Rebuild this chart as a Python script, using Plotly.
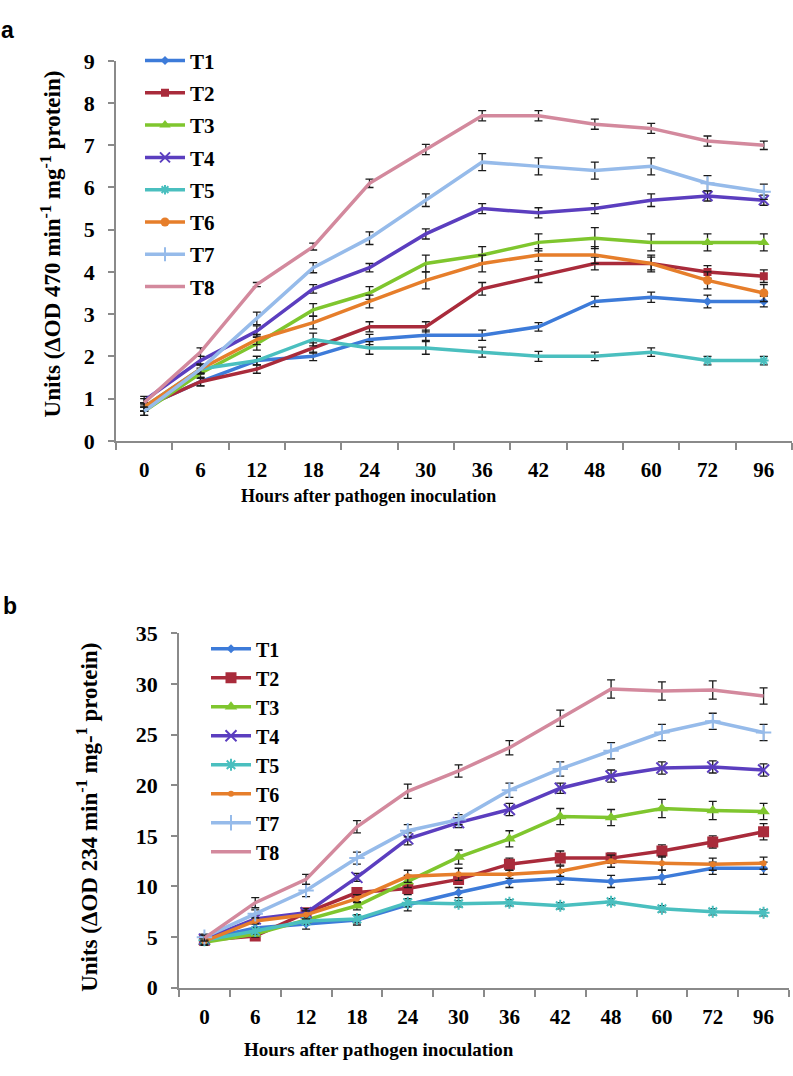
import plotly.graph_objects as go

hours = ["0", "6", "12", "18", "24", "30", "36", "42", "48", "60", "72", "96"]
names = ["T1", "T2", "T3", "T4", "T5", "T6", "T7", "T8"]

# Panel a: (ΔOD 470)
a_T1 = [0.8, 1.4, 1.9, 2.0, 2.4, 2.5, 2.5, 2.7, 3.3, 3.4, 3.3, 3.3]
a_T2 = [0.8, 1.4, 1.7, 2.2, 2.7, 2.7, 3.6, 3.9, 4.2, 4.2, 4.0, 3.9]
a_T3 = [0.7, 1.6, 2.3, 3.1, 3.5, 4.2, 4.4, 4.7, 4.8, 4.7, 4.7, 4.7]
a_T4 = [0.95, 1.9, 2.6, 3.6, 4.1, 4.9, 5.5, 5.4, 5.5, 5.7, 5.8, 5.7]
a_T5 = [0.8, 1.7, 1.9, 2.4, 2.2, 2.2, 2.1, 2.0, 2.0, 2.1, 1.9, 1.9]
a_T6 = [0.8, 1.7, 2.4, 2.8, 3.3, 3.8, 4.2, 4.4, 4.4, 4.2, 3.8, 3.5]
a_T7 = [0.7, 1.7, 2.9, 4.1, 4.8, 5.7, 6.6, 6.5, 6.4, 6.5, 6.1, 5.9]
a_T8 = [0.9, 2.1, 3.7, 4.6, 6.1, 6.9, 7.7, 7.7, 7.5, 7.4, 7.1, 7.0]

a_err_T1 = [0.10, 0.10, 0.10, 0.10, 0.12, 0.12, 0.12, 0.10, 0.12, 0.12, 0.15, 0.13]
a_err_T2 = [0.10, 0.10, 0.10, 0.12, 0.12, 0.12, 0.15, 0.15, 0.15, 0.15, 0.15, 0.15]
a_err_T3 = [0.10, 0.12, 0.15, 0.15, 0.15, 0.20, 0.20, 0.20, 0.25, 0.20, 0.20, 0.20]
a_err_T4 = [0.10, 0.10, 0.12, 0.10, 0.10, 0.12, 0.12, 0.12, 0.12, 0.15, 0.12, 0.12]
a_err_T5 = [0.10, 0.10, 0.10, 0.15, 0.15, 0.15, 0.12, 0.12, 0.10, 0.10, 0.10, 0.10]
a_err_T6 = [0.10, 0.10, 0.12, 0.15, 0.15, 0.20, 0.20, 0.15, 0.20, 0.20, 0.20, 0.20]
a_err_T7 = [0.10, 0.12, 0.15, 0.12, 0.15, 0.15, 0.20, 0.20, 0.20, 0.20, 0.18, 0.18]
a_err_T8 = [0.10, 0.10, 0.05, 0.08, 0.10, 0.12, 0.12, 0.12, 0.12, 0.12, 0.12, 0.10]

# Panel b: (ΔOD 234)
b_T1 = [4.8, 5.9, 6.3, 6.7, 8.2, 9.4, 10.5, 10.8, 10.5, 10.9, 11.8, 11.8]
b_T2 = [4.7, 5.1, 7.4, 9.4, 9.8, 10.7, 12.2, 12.8, 12.8, 13.5, 14.4, 15.4]
b_T3 = [4.5, 5.3, 6.7, 8.1, 10.5, 12.9, 14.7, 16.9, 16.8, 17.7, 17.5, 17.4]
b_T4 = [4.8, 6.8, 7.4, 10.9, 14.7, 16.3, 17.6, 19.7, 20.9, 21.7, 21.8, 21.5]
b_T5 = [4.7, 5.6, 6.6, 6.8, 8.4, 8.3, 8.4, 8.1, 8.5, 7.8, 7.5, 7.4]
b_T6 = [4.6, 6.6, 7.2, 8.8, 11.0, 11.2, 11.2, 11.5, 12.5, 12.3, 12.2, 12.3]
b_T7 = [5.0, 7.3, 9.6, 12.8, 15.5, 16.6, 19.5, 21.6, 23.4, 25.2, 26.3, 25.2]
b_T8 = [4.9, 8.4, 10.7, 15.9, 19.4, 21.4, 23.7, 26.6, 29.5, 29.3, 29.4, 28.8]

b_err_T1 = [0.3, 0.4, 0.5, 0.5, 0.6, 0.5, 0.6, 0.6, 0.6, 0.7, 0.6, 0.6]
b_err_T2 = [0.3, 0.3, 0.4, 0.4, 0.6, 0.5, 0.6, 0.7, 0.5, 0.6, 0.6, 0.8]
b_err_T3 = [0.3, 0.3, 0.4, 0.4, 0.6, 0.7, 0.8, 0.8, 0.8, 0.9, 0.9, 0.8]
b_err_T4 = [0.3, 0.4, 0.4, 0.4, 0.6, 0.5, 0.6, 0.5, 0.6, 0.6, 0.6, 0.6]
b_err_T5 = [0.3, 0.3, 0.3, 0.4, 0.4, 0.3, 0.3, 0.3, 0.3, 0.3, 0.3, 0.3]
b_err_T6 = [0.3, 0.3, 0.4, 0.4, 0.6, 0.6, 0.4, 0.5, 0.6, 0.7, 0.6, 0.6]
b_err_T7 = [0.3, 0.4, 0.6, 0.6, 0.6, 0.5, 0.7, 0.7, 0.8, 0.8, 0.8, 0.8]
b_err_T8 = [0.3, 0.5, 0.5, 0.6, 0.7, 0.6, 0.7, 0.8, 0.9, 0.9, 0.9, 0.8]

a_vals = [a_T1, a_T2, a_T3, a_T4, a_T5, a_T6, a_T7, a_T8]
a_errs = [a_err_T1, a_err_T2, a_err_T3, a_err_T4, a_err_T5, a_err_T6, a_err_T7, a_err_T8]
b_vals = [b_T1, b_T2, b_T3, b_T4, b_T5, b_T6, b_T7, b_T8]
b_errs = [b_err_T1, b_err_T2, b_err_T3, b_err_T4, b_err_T5, b_err_T6, b_err_T7, b_err_T8]

colors = ["#3D7BD9", "#A92B3B", "#7FC62E", "#5B3EBF", "#4ABFBF", "#E67E2B", "#96BBEA", "#D3899D"]
symbols = ["diamond", "square", "triangle-up", "x-thin-open", "asterisk-open", "circle", "cross-thin-open", None]
a_msize = [7, 8, 10, 10, 8, 9, 10, 0]
b_msize = [7, 11, 11, 11, 10, 6, 11, 0]

SERIF = "Liberation Serif, Times New Roman, Times, serif"
W, H = 793, 1076

fig = go.Figure()


def marker_for(i, size):
    sym = symbols[i]
    if sym is None:
        return dict(size=0, opacity=0)
    m = dict(symbol=sym, size=size, color=colors[i])
    if sym.endswith("open"):
        m["line"] = dict(color=colors[i], width=2)
    return m


err_style = dict(type="data", color="#1a1a1a", thickness=1.3, width=4, visible=True)

# Panel a
for i, nm in enumerate(names):
    fig.add_trace(go.Scatter(
        x=hours, y=a_vals[i], mode="lines", name=nm, showlegend=False,
        line=dict(color=colors[i], width=3.5),
        error_y=dict(array=a_errs[i], **err_style),
        xaxis="x", yaxis="y",
    ))
    # markers only visible on the last two time points in the reference
    if symbols[i] is not None:
        fig.add_trace(go.Scatter(
            x=hours[-2:], y=a_vals[i][-2:], mode="markers", showlegend=False,
            marker=marker_for(i, a_msize[i]), xaxis="x", yaxis="y", hoverinfo="skip",
        ))
    # legend entry
    fig.add_trace(go.Scatter(
        x=[None], y=[None], mode="lines+markers" if symbols[i] else "lines", name=nm,
        line=dict(color=colors[i], width=3.5), marker=marker_for(i, a_msize[i]),
        legend="legend", legendgroup="a" + nm, xaxis="x", yaxis="y",
    ))

# Panel b
for i, nm in enumerate(names):
    fig.add_trace(go.Scatter(
        x=hours, y=b_vals[i], mode="lines+markers" if symbols[i] else "lines", name=nm,
        line=dict(color=colors[i], width=3.5), marker=marker_for(i, b_msize[i]),
        error_y=dict(array=b_errs[i], **err_style),
        legend="legend2", legendgroup="b" + nm, xaxis="x2", yaxis="y2",
    ))

axis_col = "#8a8a8a"
tickfont = dict(family=SERIF, size=22, color="black", weight="bold")
xtickfont = dict(family=SERIF, size=21, color="black", weight="bold")

common_x = dict(type="category", range=[-0.5, 11.5], showgrid=False, zeroline=False,
                showline=True, linecolor=axis_col, linewidth=1.5, ticks="outside",
                tickson="boundaries", ticklen=7, tickcolor=axis_col, tickwidth=1.5,
                tickfont=xtickfont, ticklabelstandoff=9)
common_y = dict(showgrid=False, zeroline=False, showline=True, linecolor=axis_col,
                linewidth=1.5, ticks="outside", ticklen=6, tickcolor=axis_col,
                tickwidth=1.5, tickfont=tickfont, ticklabelstandoff=9)

fig.update_layout(
    width=W, height=H, margin=dict(l=0, r=0, t=0, b=0),
    paper_bgcolor="white", plot_bgcolor="white", showlegend=True,
    font=dict(family=SERIF),
    xaxis=dict(domain=[116 / W, 792 / W], anchor="y", **common_x),
    yaxis=dict(domain=[1 - 439 / H, 1 - 50 / H], anchor="x", range=[0, 9], dtick=1, **common_y),
    xaxis2=dict(domain=[179 / W, 789 / W], anchor="y2", **common_x),
    yaxis2=dict(domain=[1 - 999 / H, 1 - 636 / H], anchor="x2", range=[0, 35], dtick=5, **common_y),
    legend=dict(x=140 / W, y=1 - 29 / H, xanchor="left", yanchor="top",
                font=dict(family=SERIF, size=21, color="black", weight="bold"),
                bgcolor="rgba(0,0,0,0)", traceorder="grouped", tracegroupgap=2, itemwidth=40),
    legend2=dict(x=206 / W, y=1 - 632 / H, xanchor="left", yanchor="top",
                 font=dict(family=SERIF, size=20, color="black", weight="bold"),
                 bgcolor="rgba(0,0,0,0)", traceorder="grouped", tracegroupgap=0, itemwidth=40),
)

title_font = dict(family=SERIF, size=23, color="black", weight="bold")
xtitle_font_a = dict(family=SERIF, size=18, color="black", weight="bold")
xtitle_font_b = dict(family=SERIF, size=19, color="black", weight="bold")
annotations = [
    dict(text="<b>a</b>", x=7 / W, y=1 - 18 / H, font=dict(family="Liberation Sans, Arial, sans-serif", size=23, color="black")),
    dict(text="<b>b</b>", x=10 / W, y=1 - 608 / H, font=dict(family="Liberation Sans, Arial, sans-serif", size=23, color="black")),
    dict(text="Units (ΔOD 470 min<sup>-1</sup> mg<sup>-1</sup> protein)", x=51 / W, y=1 - 238 / H,
         textangle=-90, font=title_font),
    dict(text="Units (ΔOD 234 min<sup>-1</sup> mg-<sup>1</sup> protein)", x=88 / W, y=1 - 825 / H,
         textangle=-90, font=title_font),
    dict(text="Hours after pathogen inoculation", x=368 / W, y=1 - 496 / H, font=xtitle_font_a),
    dict(text="Hours after pathogen inoculation", x=379 / W, y=1 - 1062 / H, font=xtitle_font_b),
]
for a in annotations:
    a.update(xref="paper", yref="paper", showarrow=False, xanchor="center", yanchor="middle")
fig.update_layout(annotations=annotations)

fig.write_html("out.html", config={"displayModeBar": False},
               post_script="document.body.style.margin='0';")
